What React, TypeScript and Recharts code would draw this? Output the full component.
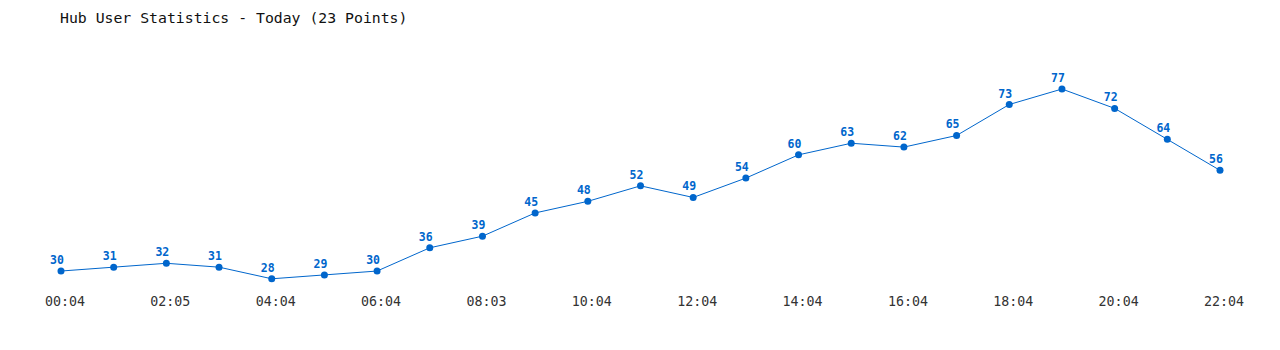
import { LabelList, Line, LineChart, XAxis, YAxis } from 'recharts';

const times = [
  '00:04', '01:04', '02:05', '03:04', '04:04', '05:04', '06:04', '07:04',
  '08:03', '09:04', '10:04', '11:04', '12:04', '13:04', '14:04', '15:04',
  '16:04', '17:04', '18:04', '19:04', '20:04', '21:04', '22:04',
];

const users = [
  30, 31, 32, 31, 28, 29, 30, 36, 39, 45, 48, 52, 49, 54, 60, 63, 62, 65, 73, 77, 72, 64, 56,
];

const data = times.map((time, i) => ({ time, users: users[i] }));

const BLUE = '#0066cc';
const MONO = '"DejaVu Sans Mono", "Liberation Mono", monospace';

export default function App() {
  return (
    <div style={{ position: 'absolute', left: 0, top: 0, width: 1280, height: 350, background: '#fff' }}>
      <div
        style={{
          position: 'absolute',
          left: 60,
          top: 9,
          fontFamily: MONO,
          fontSize: 14.8,
          color: '#111',
          whiteSpace: 'pre',
        }}
      >
        Hub User Statistics - Today (23 Points)
      </div>
      <LineChart
        width={1280}
        height={350}
        data={data}
        margin={{ top: 77.4, right: 60, bottom: 29.6, left: 61 }}
      >
        <XAxis
          dataKey="time"
          interval={1}
          axisLine={false}
          tickLine={false}
          tickSize={0}
          tickMargin={6}
          height={30}
          tick={{ fill: '#333', fontSize: 13.3, fontFamily: MONO, dx: 4 }}
        />
        <YAxis hide domain={[25, 80]} />
        <Line
          dataKey="users"
          stroke={BLUE}
          strokeWidth={1}
          dot={{ r: 3.5, fill: BLUE, stroke: BLUE, strokeWidth: 0 }}
          isAnimationActive={false}
        >
          <LabelList
            dataKey="users"
            position="top"
            offset={7}
            dx={-4}
            fill={BLUE}
            fontSize={11.5}
            fontWeight="bold"
            fontFamily={MONO}
          />
        </Line>
      </LineChart>
    </div>
  );
}
